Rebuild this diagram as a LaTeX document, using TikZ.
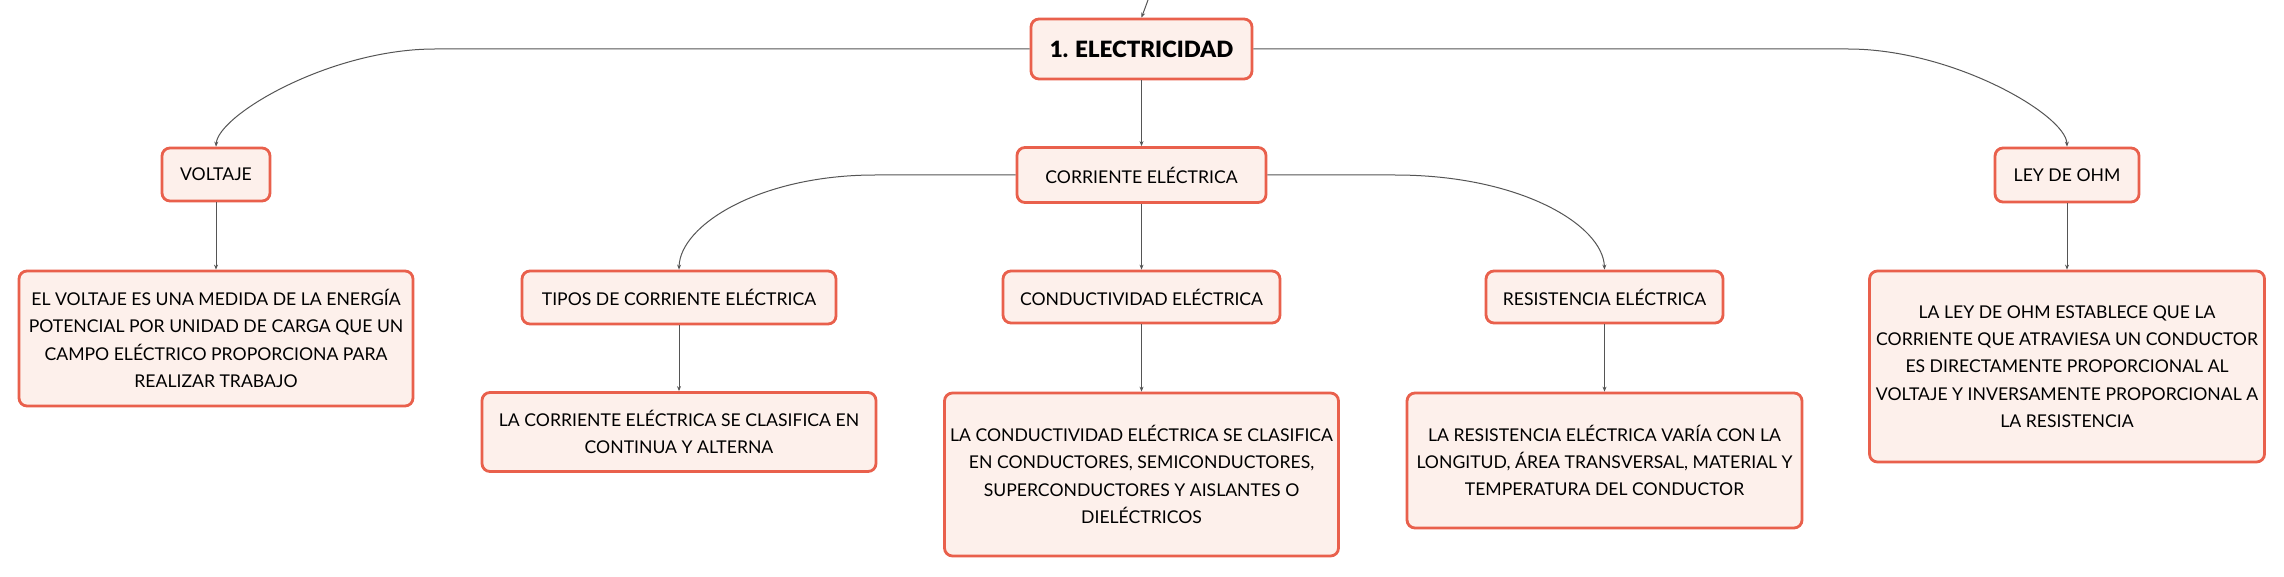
\documentclass[tikz,border=0pt]{standalone}
\usepackage{fontspec}
\setmainfont{Lato}
\newfontfamily\heavyFont{Lato Black}
\usetikzlibrary{arrows.meta}
\tikzstyle{mindMap} = [x = 0.5pt, y = -0.5pt]
\definecolor{boxBorder}{RGB}{233,96,76}
\definecolor{boxFill}{RGB}{253,240,235}
\definecolor{lineColor}{RGB}{85,85,85}
\tikzstyle{topicBox} = [draw=boxBorder, fill=boxFill, line width=1.4pt, rounded corners=4pt, align=center, inner sep=0pt, font=\fontsize{8.8}{13.6}\selectfont]
\tikzstyle{mainBox} = [topicBox, font=\heavyFont\fontsize{11.2}{14}\selectfont]
\tikzstyle{branchLine} = [color=lineColor, line width=0.5pt, -{Stealth[length=2.5pt, width=2pt]}]
\newcommand{\topicNode}[6]{\node [topicBox, minimum width=#4*0.5pt, minimum height=#5*0.5pt] (#1) at (#2, #3) {#6};}

\begin{document}
\begin{tikzpicture}[mindMap]
  \fill [white] (0,0) rectangle (2284,577);
  \useasboundingbox (0,0) rectangle (2284,577);
  % main topic and its parent link
  \coordinate (parentLink) at (1148,0);
  \node [mainBox, minimum width=221*0.5pt, minimum height=60*0.5pt] (electricidad) at (1141.5,49) {1. ELECTRICIDAD};
  % second level
  \topicNode{voltaje}{216}{174.5}{108}{53}{VOLTAJE}
  \topicNode{corriente}{1141.5}{175}{249}{55}{CORRIENTE ELÉCTRICA}
  \topicNode{ohm}{2067}{175}{144}{54}{LEY DE OHM}
  % third level
  \topicNode{tipos}{679}{297.5}{314}{53}{TIPOS DE CORRIENTE ELÉCTRICA}
  \topicNode{conductividad}{1141.5}{297}{277}{52}{CONDUCTIVIDAD ELÉCTRICA}
  \topicNode{resistencia}{1604.5}{297}{237}{52}{RESISTENCIA ELÉCTRICA}
  % descriptions
  \topicNode{voltajeText}{216}{338.5}{394}{135}{EL VOLTAJE ES UNA MEDIDA DE LA ENERGÍA\\POTENCIAL POR UNIDAD DE CARGA QUE UN\\CAMPO ELÉCTRICO PROPORCIONA PARA\\REALIZAR TRABAJO}
  \topicNode{tiposText}{679}{432}{394}{79}{LA CORRIENTE ELÉCTRICA SE CLASIFICA EN\\CONTINUA Y ALTERNA}
  \topicNode{conductividadText}{1141.5}{474.5}{394}{163}{LA CONDUCTIVIDAD ELÉCTRICA SE CLASIFICA\\EN CONDUCTORES, SEMICONDUCTORES,\\SUPERCONDUCTORES Y AISLANTES O\\DIELÉCTRICOS}
  \topicNode{resistenciaText}{1604.5}{460.5}{395}{135}{LA RESISTENCIA ELÉCTRICA VARÍA CON LA\\LONGITUD, ÁREA TRANSVERSAL, MATERIAL Y\\TEMPERATURA DEL CONDUCTOR}
  \topicNode{ohmText}{2067}{366.5}{395}{191}{LA LEY DE OHM ESTABLECE QUE LA\\CORRIENTE QUE ATRAVIESA UN CONDUCTOR\\ES DIRECTAMENTE PROPORCIONAL AL\\VOLTAJE Y INVERSAMENTE PROPORCIONAL A\\LA RESISTENCIA}
  % connectors
  \draw [branchLine] (parentLink) -- (electricidad.north);
  \draw [branchLine] (electricidad.south) -- (corriente.north);
  \draw [branchLine] (electricidad.west) -- (435,49) .. controls (330,49) and (218,115) .. (voltaje.north);
  \draw [branchLine] (electricidad.east) -- (1848,49) .. controls (1953,49) and (2066,115) .. (ohm.north);
  \draw [branchLine] (corriente.west) -- (875,175) .. controls (760,175) and (680,225) .. (tipos.north);
  \draw [branchLine] (corriente.east) -- (1395,175) .. controls (1520,175) and (1603,225) .. (resistencia.north);
  \draw [branchLine] (corriente.south) -- (conductividad.north);
  \draw [branchLine] (voltaje.south) -- (voltajeText.north);
  \draw [branchLine] (tipos.south) -- (tiposText.north);
  \draw [branchLine] (conductividad.south) -- (conductividadText.north);
  \draw [branchLine] (resistencia.south) -- (resistenciaText.north);
  \draw [branchLine] (ohm.south) -- (ohmText.north);
\end{tikzpicture}
\end{document}
